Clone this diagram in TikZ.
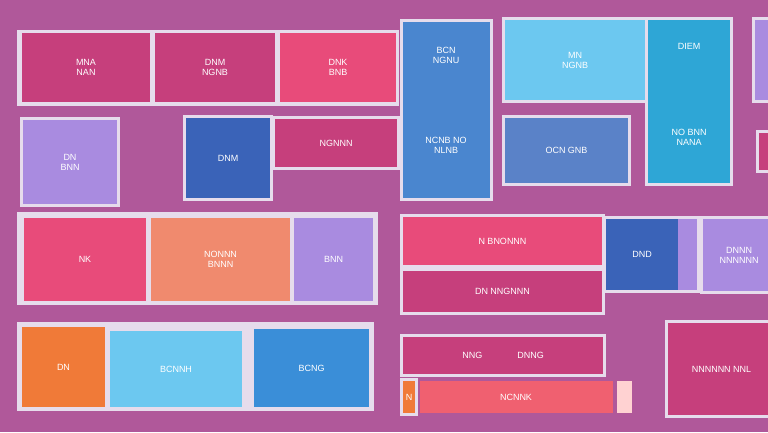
\documentclass[tikz,border=0pt]{standalone}
\usepackage{fontspec}
\setmainfont{Liberation Sans}
\definecolor{bgc}{HTML}{B0589A}
\definecolor{frm}{HTML}{E6DCEC}
\definecolor{rasp}{HTML}{C63F7C}
\definecolor{rose}{HTML}{E84B7A}
\definecolor{lav}{HTML}{A98BE0}
\definecolor{navy}{HTML}{3A63B8}
\definecolor{sky}{HTML}{6CC8F0}
\definecolor{teal}{HTML}{2EA6D6}
\definecolor{azure}{HTML}{3A8ED8}
\definecolor{slate}{HTML}{5A82C8}
\definecolor{peach}{HTML}{F08A6E}
\definecolor{tang}{HTML}{F07A38}
\definecolor{coral}{HTML}{F06070}
\definecolor{steel}{HTML}{4A86CF}

\tikzset{
  frame/.style={fill=frm},
  txt/.style={text=white,font=\fontsize{9}{10}\selectfont,align=center,inner sep=0pt}
}
% box: x1,y1,x2,y2,colour,name,text
\newcommand{\bx}[7]{%
  \fill[frm] (#1-3,#2-3) rectangle (#3+3,#4+3);
  \fill[#5] (#1,#2) rectangle (#3,#4);
  \node[txt] (#6) at ({(#1+#3)/2},{(#2+#4)/2}) {#7};}

\begin{document}
\begin{tikzpicture}[x=1pt,y=-1pt]
  \fill[bgc] (0,0) rectangle (768,432);
  \useasboundingbox (0,0) rectangle (768,432);
        % top row
        \fill[frm] (17,30) rectangle (399,106);
        \bx{22}{33}{150}{102}{rasp}{mia}{MNA\\NAN}
        \bx{155}{33}{275}{102}{rasp}{dim}{DNM\\NGNB}
        \bx{280}{33}{396}{102}{rose}{dik}{DNK\\BNB}
        \bx{403}{22}{490}{198}{steel}{bcn}{}
        \node[txt] (bcnt) at (446,55) {BCN\\NGNU};
        \node[txt] (bcnb) at (446,145) {NCNB NO\\NLNB};
        \bx{505}{20}{645}{100}{sky}{mi}{MN\\NGNB}
        \bx{648}{20}{730}{183}{teal}{diem}{}
        \node[txt] (diemt) at (689,46) {DIEM};
        \node[txt] (diemb) at (689,137) {NO BNN\\NANA};
        \bx{505}{118}{628}{183}{slate}{ocn}{OCN GNB}
        \bx{755}{20}{775}{100}{lav}{edge1}{}
        % second row
        \bx{23}{120}{117}{204}{lav}{dn}{DN\\BNN}
        \bx{186}{118}{270}{198}{navy}{dnm}{DNM}
        \bx{275}{119}{397}{167}{rasp}{ngn}{NGNNN}
        \bx{759}{133}{775}{170}{rasp}{edge2}{}
        % third row
        \fill[frm] (17,212) rectangle (378,305);
        \bx{24}{218}{146}{301}{rose}{nk}{NK}
        \bx{151}{218}{290}{301}{peach}{non}{NONNN\\BNNN}
        \bx{294}{218}{373}{301}{lav}{bnn}{BNN}
        \bx{403}{217}{602}{265}{rose}{bno}{N BNONNN}
        \bx{403}{271}{602}{312}{rasp}{dnn}{DN NNGNNN}
        \bx{606}{219}{697}{290}{lav}{dnd}{}
        \fill[navy] (606,219) rectangle (678,290);
        \node[txt] (dndt) at (642,254) {DND};
        \bx{703}{219}{775}{291}{lav}{dnnn}{DNNN\\NNNNNN}
        % bottom row
        \fill[frm] (17,322) rectangle (374,411);
        \bx{22}{327}{105}{407}{tang}{dn2}{DN}
        \bx{110}{331}{242}{407}{sky}{bch}{BCNNH}
        \bx{254}{329}{369}{407}{azure}{bcg}{BCNG}
        \bx{403}{337}{603}{374}{rasp}{dng}{NNG \hspace{30pt} DNNG}
        \bx{403}{381}{415}{413}{tang}{n}{N}
        \fill[coral] (420,381) rectangle (613,413);
        \node[txt] (nck) at (516,397) {NCNNK};
        \fill[pink!70!white] (617,381) rectangle (632,413);
        \bx{668}{323}{775}{415}{rasp}{nnl}{NNNNNN NNL}
\end{tikzpicture}
\end{document}
